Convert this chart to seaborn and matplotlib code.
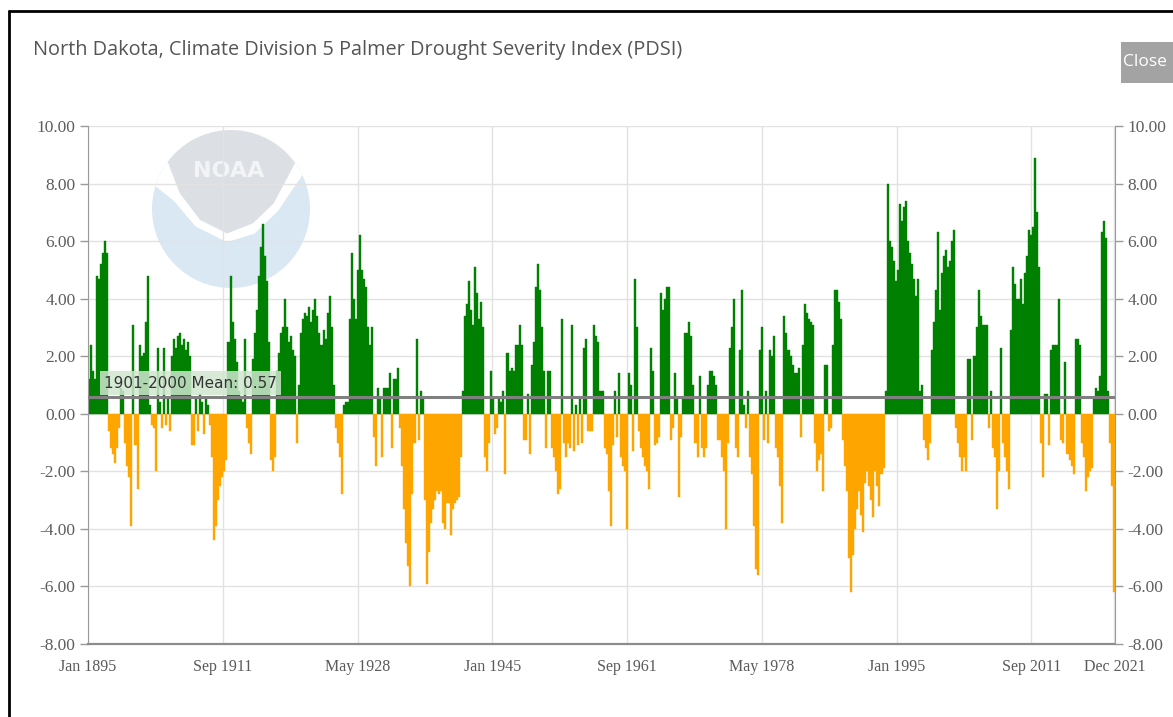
import numpy as np
import pandas as pd
import matplotlib
matplotlib.use("Agg")
import matplotlib.pyplot as plt
import seaborn as sns
from matplotlib.lines import Line2D
from matplotlib.patches import Circle, Polygon, Rectangle

# quarterly PDSI values, Q1..Q4 for every year
pdsi_1890s = [1.2, 2.4, 1.5, 1.2,  4.8, 4.7, 5.2, 5.6,  6.0, 5.6, -0.6, -1.2,
              -1.4, -1.7, -1.2, -0.5,  0.9, 0.8, -1.0, -1.8]
pdsi_1900s = [-2.2, -3.9, 3.1, -1.1,  -2.6, 2.4, 2.0, 2.1,  3.2, 4.8, 0.3, -0.4,
              -0.5, -2.0, 2.3, 0.4,  -0.5, 2.3, -0.4, 0.5,  -0.6, 2.0, 2.6, 2.3,
              2.7, 2.8, 2.4, 2.6,  2.2, 2.5, 2.0, -1.1,  -1.1, 0.5, -0.6, 0.7,
              0.4, -0.7, 0.6, 0.3]
pdsi_1910s = [-0.4, -1.5, -4.4, -3.9,  -3.0, -2.5, -2.2, -2.0,  -1.6, 2.5, 4.8, 3.2,
              2.6, 1.8, 0.8, 0.6,  0.4, 2.6, -0.5, -1.0,  -1.4, 1.9, 2.8, 3.6,
              4.8, 5.8, 6.6, 5.5,  4.6, 2.5, -1.6, -2.0,  -1.5, 1.5, 2.1, 2.8,
              3.0, 4.0, 3.0, 2.5]
pdsi_1920s = [2.7, 2.2, 2.0, -1.0,  1.0, 2.8, 3.3, 3.5,  3.4, 3.7, 3.2, 3.6,
              4.0, 3.4, 2.8, 2.4,  2.9, 2.6, 3.5, 4.1,  3.0, 1.0, -0.5, -1.0,
              -1.5, -2.8, 0.3, 0.4,  0.4, 3.3, 5.6, 4.0,  3.3, 5.0, 6.2, 5.0,
              4.7, 4.4, 3.0, 2.4]
pdsi_1930s = [3.0, -0.8, -1.8, 0.9,  0.5, -1.5, 0.9, 0.9,  0.9, 1.4, -1.2, 1.2,
              1.2, 1.6, -0.5, -1.8,  -3.3, -4.5, -5.3, -6.0,  -2.8, -1.0, 2.6, -0.9,
              0.8, 0.6, -3.0, -5.9,  -4.8, -3.8, -3.3, -3.0,  -2.7, -2.8, -2.7, -3.8,
              -4.0, -3.1, -3.1, -4.2]
pdsi_1940s = [-3.3, -3.1, -3.0, -2.9,  -1.5, 0.8, 3.4, 3.8,  4.6, 3.6, 3.1, 5.1,
              4.2, 3.3, 3.9, 3.0,  -1.5, -2.0, -1.0, 1.5,  0.5, -0.7, -0.5, 0.6,
              0.4, 0.8, -2.1, 2.1,  1.5, 1.6, 1.5, 2.4,  2.4, 3.1, 2.4, -0.9,
              -0.9, 0.7, -1.4, 1.7]
pdsi_1950s = [2.5, 4.4, 5.2, 4.3,  3.0, 1.5, -1.2, 1.5,  1.5, -1.2, -1.5, -2.0,
              -2.8, -2.6, 3.3, -1.0,  -1.5, -1.0, -1.2, 3.1,  -1.3, 0.3, -1.1, 0.5,
              -1.0, 2.3, 2.6, -0.6,  -0.6, -0.6, 3.1, 2.7,  2.5, 0.8, 0.8, -1.2,
              -1.4, -2.7, -3.9, -1.1]
pdsi_1960s = [0.8, -0.8, 1.4, -1.5,  -1.8, -2.0, -4.0, 1.4,  1.0, -1.3, 4.7, 3.0,
              -0.6, -1.2, -1.5, -1.8,  -2.0, -2.6, 2.3, 1.5,  -1.1, -1.0, -0.8, 4.2,
              3.6, 4.0, 4.4, 4.4,  -0.9, -0.5, 1.4, 0.5,  -2.9, -0.8, 0.5, 2.8,
              2.8, 3.2, 2.7, 1.0]
pdsi_1970s = [-1.0, -1.5, 1.3, -1.2,  -1.5, -1.2, 1.0, 1.5,  1.5, 1.3, 1.0, -0.9,
              -0.9, -1.5, -2.0, -4.0,  -1.0, 2.3, 3.0, 4.0,  -1.2, -1.5, 2.2, 4.3,
              0.3, -0.5, 0.8, -1.5,  -2.1, -3.9, -5.4, -5.6,  2.2, 3.0, -0.9, 0.8,
              -1.0, 2.2, 2.0, 2.7]
pdsi_1980s = [-1.2, -1.5, -2.5, -3.8,  3.4, 2.8, 2.2, 2.0,  1.7, 1.4, 1.4, 1.6,
              -0.8, 2.4, 3.8, 3.5,  3.3, 3.2, 3.1, -1.0,  -2.0, -1.6, -1.4, -2.7,
              1.7, 1.7, -0.6, -0.5,  2.4, 4.3, 4.3, 3.9,  3.3, -0.9, -1.8, -2.7,
              -5.0, -6.2, -4.9, -4.0]
pdsi_1990s = [-3.3, -2.7, -3.5, -4.1,  -2.4, -2.0, -2.5, -3.0,  -3.6, -2.0, -2.5, -3.2,
              -2.1, -1.9, 0.8, 8.0,  6.0, 5.8, 5.3, 4.6,  5.0, 7.3, 6.7, 7.2,
              7.4, 6.0, 5.6, 5.2,  4.7, 4.1, 4.7, 0.8,  1.0, -0.9, -1.2, -1.6,
              -1.0, 2.2, 3.2, 4.3]
pdsi_2000s = [6.3, 3.6, 4.9, 5.5,  5.7, 5.1, 5.3, 6.0,  6.4, -0.5, -1.0, -1.5,
              -2.0, -1.5, -2.0, 1.9,  1.9, -0.9, 2.0, 3.0,  4.3, 3.4, 3.1, 3.1,
              3.1, -0.5, 0.8, -1.2,  -1.5, -3.3, -2.0, 2.3,  -1.0, -1.5, -2.0, -2.6,
              2.9, 5.1, 4.5, 4.0]
pdsi_2010s = [4.0, 4.7, 3.8, 4.9,  5.5, 6.4, 6.2, 6.5,  8.9, 7.0, 5.1, -1.0,
              -2.2, 0.7, 0.7, -1.1,  2.2, 2.4, 2.4, 2.4,  4.0, -0.9, -1.0, 1.8,
              -1.4, -1.6, -1.8, -2.1,  2.6, 2.6, 2.4, -1.0,  -1.5, -2.7, -2.2, -2.0,
              -1.9, 0.5, 0.9, 0.8]
pdsi_2020s = [1.3, 6.3, 6.7, 6.1,  0.8, -1.0, -2.5, -6.2]

tick_labels = ["Jan 1895", "Sep 1911", "May 1928", "Jan 1945", "Sep 1961",
               "May 1978", "Jan 1995", "Sep 2011", "Dec 2021"]
tick_months = [0, 200, 400, 600, 800, 1000, 1200, 1400, 1523]
y_ticks = [-8, -6, -4, -2, 0, 2, 4, 6, 8, 10]
mean_value = 0.57
mean_label = "1901-2000 Mean: 0.57"
title = "North Dakota, Climate Division 5 Palmer Drought Severity Index (PDSI)"

W, H = 1173, 717


def fx(px):
    return px / W


def fy(py):
    return 1 - py / H


def draw_logo(fig):
    # faded NOAA emblem behind the bars: grey bowl, white gull, pale blue disc
    lax = fig.add_axes([fx(152), fy(288), fx(310) - fx(152), fy(130) - fy(288)])
    lax.set_xlim(-1, 1)
    lax.set_ylim(-1, 1)
    lax.axis("off")
    disc = Circle((0, 0), 1, facecolor="#dae8f4", lw=0)
    lax.add_patch(disc)

    t = np.radians(np.linspace(25, 165, 60))
    gull = np.vstack([np.column_stack([np.cos(t), np.sin(t)]),
                      [[-0.97, 0.3], [-0.72, 0.1], [-0.45, -0.22], [-0.05, -0.42],
                       [0.3, -0.31], [0.6, -0.02], [0.8, 0.28], [0.92, 0.45]]])
    t = np.radians(np.linspace(37, 143, 60))
    bowl = np.vstack([np.column_stack([np.cos(t), np.sin(t)]),
                      [[-0.81, 0.62], [-0.65, 0.2], [-0.39, -0.14], [-0.05, -0.31],
                       [0.28, -0.18], [0.54, 0.07], [0.7, 0.37], [0.83, 0.62]]])
    for pts, col in ((gull, "white"), (bowl, "#dcdfe4")):
        p = Polygon(pts, closed=True, facecolor=col, lw=0)
        lax.add_patch(p)
        p.set_clip_path(disc)
    lax.text(-0.03, 0.48, "NOAA", ha="center", va="center", color="#f3f4f6",
             fontsize=16, fontweight="bold", family="DejaVu Sans")


def main():
    pdsi = (pdsi_1890s + pdsi_1900s + pdsi_1910s + pdsi_1920s + pdsi_1930s +
            pdsi_1940s + pdsi_1950s + pdsi_1960s + pdsi_1970s + pdsi_1980s +
            pdsi_1990s + pdsi_2000s + pdsi_2010s + pdsi_2020s)
    df = pd.DataFrame({"year": 1895.125 + 0.25 * np.arange(len(pdsi)),
                       "pdsi": pdsi})
    df["phase"] = np.where(df["pdsi"] >= 0, "wet", "dry")

    sns.set_style("white")
    plt.rcParams["font.family"] = ["DejaVu Sans"]

    fig = plt.figure(figsize=(W / 100, H / 100), dpi=100)
    draw_logo(fig)

    ax = fig.add_axes([fx(88), fy(644), fx(1115) - fx(88), fy(126) - fy(644)])
    ax.set_facecolor("none")
    sns.barplot(data=df, x="year", y="pdsi", hue="phase",
                palette={"wet": "#008000", "dry": "#ffa500"}, saturation=1,
                native_scale=True, dodge=False, width=1.0, linewidth=0,
                errorbar=None, legend=False, ax=ax)
    for p in ax.patches:
        p.set_edgecolor(p.get_facecolor())
        p.set_linewidth(0.3)

    tick_pos = [1895 + m / 12 for m in tick_months]
    ax.set_xlim(1895, 1895 + 1524 / 12)
    ax.set_ylim(-8, 10)
    ax.set_xlabel("")
    ax.set_ylabel("")
    ax.set_xticks(tick_pos)
    ax.set_xticklabels(tick_labels, fontfamily="Liberation Serif",
                       fontsize=11.5, color="#5a5a5a")
    ax.set_yticks(y_ticks)
    ax.set_yticklabels([f"{v:.2f}" for v in y_ticks],
                       fontfamily="Liberation Serif", fontsize=12.5, color="#5e5e5e")
    ax.set_axisbelow(True)
    ax.grid(True, color="#e2e2e2", lw=1)
    ax.tick_params(axis="both", direction="out", length=6, width=1,
                   color="#9a9a9a", pad=3)
    ax.tick_params(axis="x", pad=5)
    ax.spines["top"].set_visible(False)
    ax.spines["right"].set_visible(False)
    ax.spines["left"].set_color("#9a9a9a")
    ax.spines["bottom"].set_color("#8c8c8c")
    ax.spines["bottom"].set_linewidth(1.6)

    ax2 = ax.twinx()
    ax2.set_ylim(-8, 10)
    ax2.set_yticks(y_ticks)
    ax2.set_yticklabels([f"{v:.2f}" for v in y_ticks],
                        fontfamily="Liberation Serif", fontsize=12.5, color="#5e5e5e")
    ax2.tick_params(axis="y", direction="out", length=6, width=1,
                    color="#9a9a9a", pad=3)
    for side in ("top", "left", "bottom"):
        ax2.spines[side].set_visible(False)
    ax2.spines["right"].set_color("#9a9a9a")

    # long-term mean line with its label
    ax.axhline(mean_value, color="#808080", lw=2.2, zorder=4)
    ax.text(1897.0, mean_value + 0.49, mean_label, fontsize=11, color="#333333",
            va="center", ha="left", zorder=5,
            bbox=dict(boxstyle="square,pad=0.28", facecolor="#cfe7cf",
                      edgecolor="none", alpha=0.85))

    fig.text(fx(33), fy(50), title, ha="left", va="center", fontsize=14.3,
             color="#555555", family="Open Sans")

    fig.patches.append(Rectangle((fx(1121), fy(83)), fx(60), fy(42) - fy(83),
                                 transform=fig.transFigure, facecolor="#a3a3a3",
                                 edgecolor="none"))
    fig.text(fx(1123), fy(62), "Close", ha="left", va="center", fontsize=12.5,
             color="white", family="Open Sans")

    # frame of the screenshot
    fig.add_artist(Line2D([fx(9), fx(9)], [fy(11), 0], color="black", lw=2,
                          transform=fig.transFigure))
    fig.add_artist(Line2D([fx(9), 1], [fy(11), fy(11)], color="black", lw=2,
                          transform=fig.transFigure))

    fig.savefig("out.png", dpi=100)
    plt.close(fig)


if __name__ == "__main__":
    main()
